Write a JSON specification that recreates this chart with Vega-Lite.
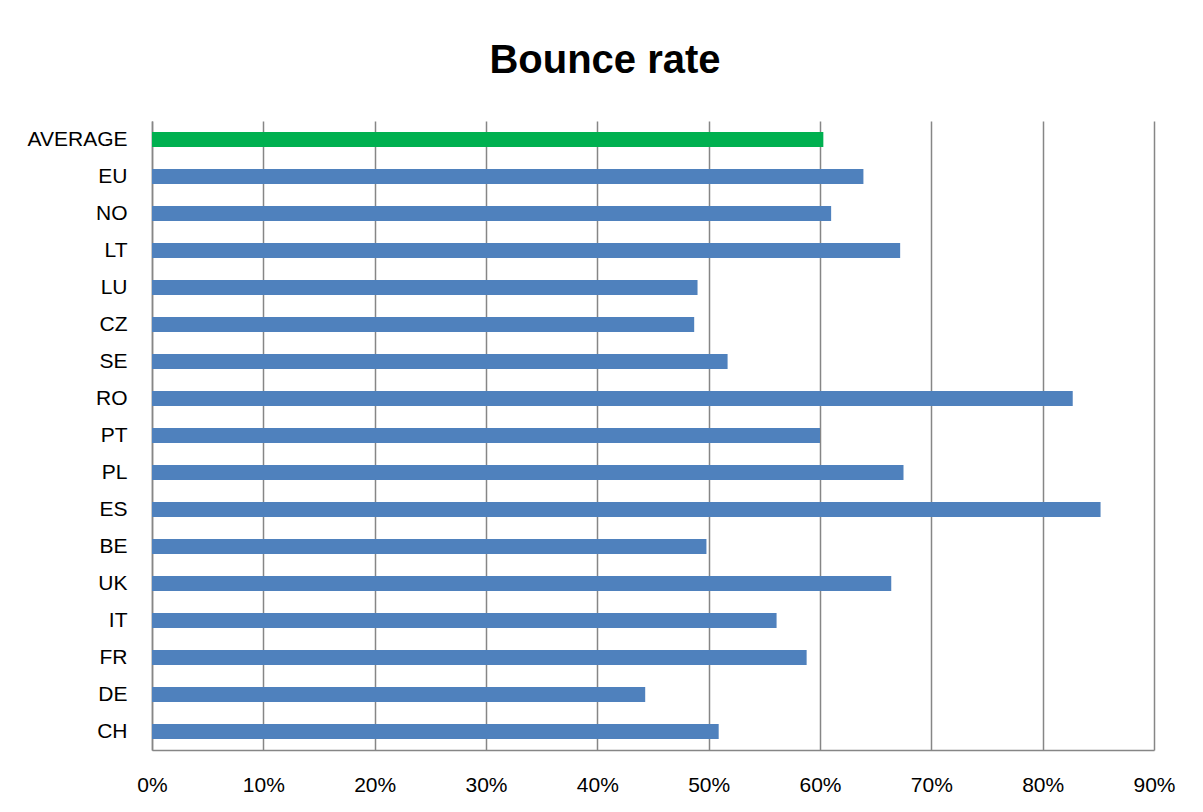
{
  "$schema": "https://vega.github.io/schema/vega-lite/v6.json",
  "width": 1002,
  "height": 629,
  "autosize": {"type": "none"},
  "padding": {"left": 152, "top": 121, "right": 49, "bottom": 62},
  "background": "#ffffff",
  "title": {
    "text": "Bounce rate",
    "font": "Liberation Sans",
    "fontSize": 40,
    "fontWeight": "bold",
    "color": "#000000",
    "anchor": "middle",
    "dx": -48,
    "offset": 40
  },
  "data": {
    "values": [
      {"country": "AVERAGE", "rate": 0.603, "group": "avg"},
      {"country": "EU", "rate": 0.639, "group": "c"},
      {"country": "NO", "rate": 0.610, "group": "c"},
      {"country": "LT", "rate": 0.672, "group": "c"},
      {"country": "LU", "rate": 0.490, "group": "c"},
      {"country": "CZ", "rate": 0.487, "group": "c"},
      {"country": "SE", "rate": 0.517, "group": "c"},
      {"country": "RO", "rate": 0.827, "group": "c"},
      {"country": "PT", "rate": 0.600, "group": "c"},
      {"country": "PL", "rate": 0.675, "group": "c"},
      {"country": "ES", "rate": 0.852, "group": "c"},
      {"country": "BE", "rate": 0.498, "group": "c"},
      {"country": "UK", "rate": 0.664, "group": "c"},
      {"country": "IT", "rate": 0.561, "group": "c"},
      {"country": "FR", "rate": 0.588, "group": "c"},
      {"country": "DE", "rate": 0.443, "group": "c"},
      {"country": "CH", "rate": 0.509, "group": "c"}
    ]
  },
  "mark": {"type": "bar"},
  "encoding": {
    "y": {
      "field": "country",
      "type": "nominal",
      "sort": null,
      "scale": {"paddingInner": 0.6, "paddingOuter": 0.3},
      "axis": {
        "title": null,
        "ticks": false,
        "domain": true,
        "domainColor": "#868686",
        "domainWidth": 1.5,
        "labelFont": "Liberation Sans",
        "labelFontSize": 21,
        "labelColor": "#000000",
        "labelPadding": 25
      }
    },
    "x": {
      "field": "rate",
      "type": "quantitative",
      "scale": {"domain": [0, 0.9], "nice": false},
      "axis": {
        "title": null,
        "format": ".0%",
        "values": [0, 0.1, 0.2, 0.3, 0.4, 0.5, 0.6, 0.7, 0.8, 0.9],
        "ticks": false,
        "domain": true,
        "domainColor": "#868686",
        "domainWidth": 1.5,
        "grid": true,
        "gridColor": "#868686",
        "gridWidth": 1.5,
        "labelFont": "Liberation Sans",
        "labelFontSize": 21,
        "labelColor": "#000000",
        "labelPadding": 24,
        "labelFlush": false
      }
    },
    "color": {
      "field": "group",
      "type": "nominal",
      "scale": {"domain": ["avg", "c"], "range": ["#00B050", "#4F81BD"]},
      "legend": null
    }
  },
  "config": {
    "view": {"stroke": null}
  }
}
